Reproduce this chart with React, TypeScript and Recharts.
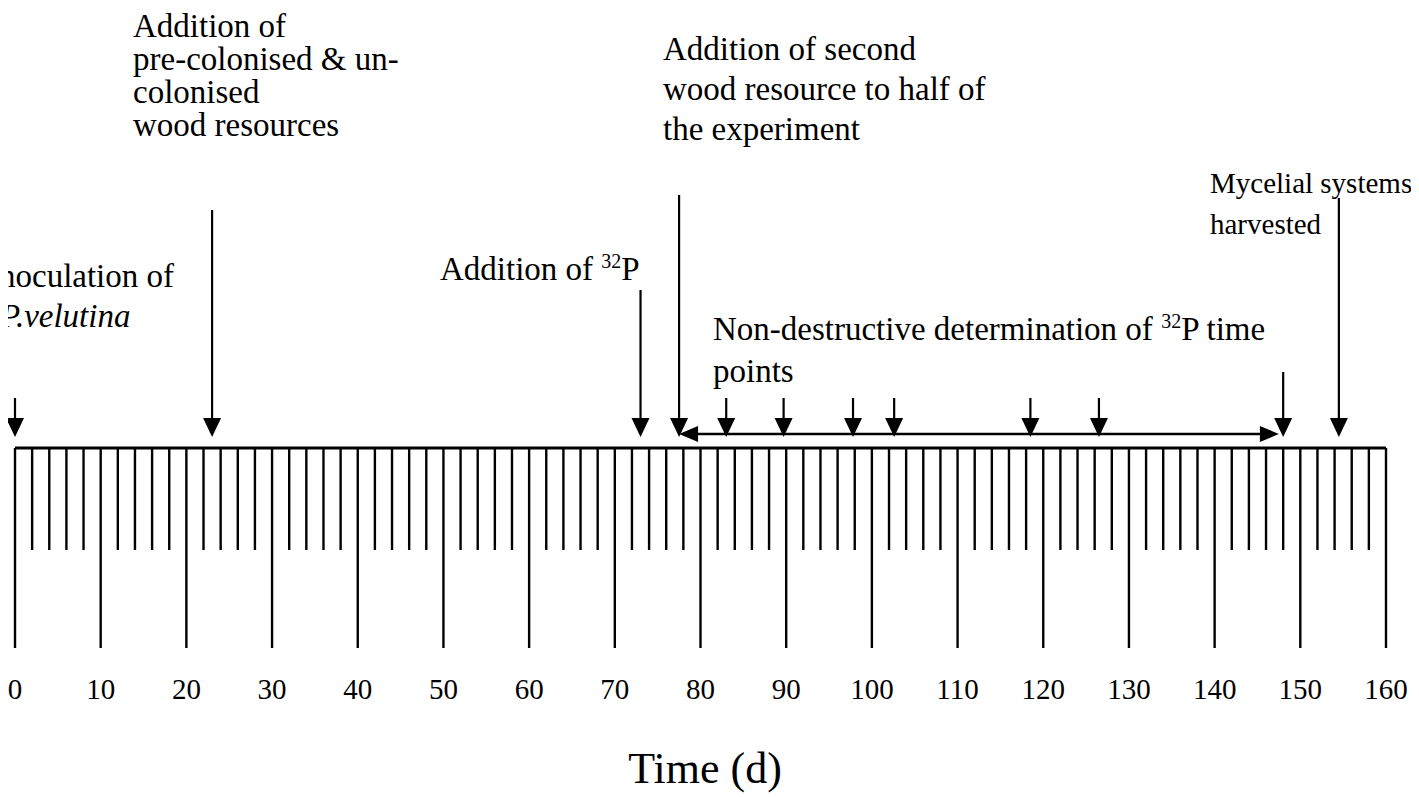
import React from "react";
import { ComposedChart, XAxis, YAxis, ReferenceLine, Customized } from "recharts";

// time axis: a tick every 2 days, a long one with a label every 10
const tickDays = [
  0, 2, 4, 6, 8, 10, 12, 14, 16, 18, 20, 22, 24, 26, 28, 30, 32, 34, 36, 38, 40,
  42, 44, 46, 48, 50, 52, 54, 56, 58, 60, 62, 64, 66, 68, 70, 72, 74, 76, 78, 80,
  82, 84, 86, 88, 90, 92, 94, 96, 98, 100, 102, 104, 106, 108, 110, 112, 114, 116,
  118, 120, 122, 124, 126, 128, 130, 132, 134, 136, 138, 140, 142, 144, 146, 148,
  150, 152, 154, 156, 158, 160,
];
const majorLabels = ["0", "10", "20", "30", "40", "50", "60", "70", "80", "90", "100", "110", "120", "130", "140", "150", "160"];

// events along the experiment (day)
const eventNames = ["inoculation", "woodAdded", "p32Added", "secondWood", "harvest"];
const eventDays = [0, 23, 73, 77.5, 154.5];

// non-destructive 32P measurement days and the span they cover
const samplingDays = [83, 89.7, 97.8, 102.6, 118.5, 126.5, 148];
const samplingSpan = [77.5, 147.5];

const W = 1419;
const H = 797;
const AXIS_Y = 448;
const TIP_Y = 437;
const SPAN_Y = 434;
const FONT = "'Liberation Serif', 'Times New Roman', serif";

const eventArrowTop: Record<string, number> = {
  inoculation: 398,
  woodAdded: 210,
  p32Added: 290,
  secondWood: 195,
  harvest: 198,
};
const samplingArrowTop = 398;
const lastSamplingTop = 372;

const downArrow = (props: any) => {
  const { x1, y1, x2, y2 } = props;
  const head = 19;
  const half = 9;
  return (
    <g>
      <line x1={x1} y1={y1} x2={x2} y2={y2 - head + 2} stroke="#000" strokeWidth={2.2} />
      <polygon points={`${x2 - half},${y2 - head} ${x2 + half},${y2 - head} ${x2},${y2}`} fill="#000" />
    </g>
  );
};

const spanArrow = (props: any) => {
  const { x1, y1, x2 } = props;
  const head = 19;
  const half = 8;
  const y = y1;
  return (
    <g>
      <line x1={x1 + head - 2} y1={y} x2={x2 - head + 2} y2={y} stroke="#000" strokeWidth={2.4} />
      <polygon points={`${x1},${y} ${x1 + head},${y - half} ${x1 + head},${y + half}`} fill="#000" />
      <polygon points={`${x2},${y} ${x2 - head},${y - half} ${x2 - head},${y + half}`} fill="#000" />
    </g>
  );
};

const TimeTick = (props: any) => {
  const { x, y, payload } = props;
  const v = payload.value;
  const major = v % 10 === 0;
  return (
    <g>
      <line x1={x} y1={y} x2={x} y2={y + (major ? 200 : 102)} stroke="#000" strokeWidth={2.4} />
      {major && (
        <text x={x} y={699} textAnchor="middle" fontFamily={FONT} fontSize={29} fill="#000">
          {majorLabels[v / 10]}
        </text>
      )}
    </g>
  );
};

const Sup = ({ children }: { children: string }) => (
  <>
    <tspan fontSize={20} dy={-12}>{children}</tspan>
    <tspan dy={12}>P</tspan>
  </>
);

const Annotations = () => (
  <g fontFamily={FONT} fontSize={33} fill="#000">
    <text x={133} y={37}>Addition of</text>
    <text x={133} y={70}>pre-colonised &amp; un-</text>
    <text x={133} y={103}>colonised</text>
    <text x={133} y={136}>wood resources</text>

    <text x={663} y={60}>Addition of second</text>
    <text x={663} y={100}>wood resource to half of</text>
    <text x={663} y={140}>the experiment</text>

    <text x={1210} y={193} fontSize={29}>Mycelial systems</text>
    <text x={1210} y={234} fontSize={29}>harvested</text>

    <text x={440} y={280}>
      Addition of <Sup>32</Sup>
    </text>

    <text x={713} y={340}>
      Non-destructive determination of <Sup>32</Sup> time
    </text>
    <text x={713} y={382}>points</text>

    <text x={-12} y={287}>Inoculation of</text>
    <text x={0} y={327} fontStyle="italic">P.velutina</text>

    <text x={705} y={783} textAnchor="middle" fontSize={44}>Time (d)</text>
  </g>
);

export default function App() {
  const rows = eventDays.map((d, i) => ({ day: d, name: eventNames[i] }));
  return (
    <div style={{ position: "relative", left: -8, top: -8, width: W, height: H, background: "#fff" }}>
      <ComposedChart width={W} height={H} data={rows} margin={{ top: 0, right: 33, bottom: 0, left: 15 }}>
        <XAxis
          type="number"
          dataKey="day"
          domain={[0, 160]}
          ticks={tickDays}
          interval={0}
          height={H - AXIS_Y}
          tickSize={0}
          tickMargin={0}
          tickLine={false}
          axisLine={{ stroke: "#000", strokeWidth: 3 }}
          tick={<TimeTick />}
          allowDataOverflow
        />
        <YAxis hide type="number" domain={[0, AXIS_Y]} reversed allowDataOverflow />

        {eventDays.map((d, i) => (
          <ReferenceLine
            key={eventNames[i]}
            ifOverflow="visible"
            segment={[
              { x: d, y: eventArrowTop[eventNames[i]] },
              { x: d, y: TIP_Y },
            ]}
            shape={downArrow}
          />
        ))}

        {samplingDays.map((d, i) => (
          <ReferenceLine
            key={"s" + d}
            ifOverflow="visible"
            segment={[
              { x: d, y: i === samplingDays.length - 1 ? lastSamplingTop : samplingArrowTop },
              { x: d, y: TIP_Y },
            ]}
            shape={downArrow}
          />
        ))}

        <ReferenceLine
          ifOverflow="visible"
          segment={[
            { x: samplingSpan[0], y: SPAN_Y },
            { x: samplingSpan[1], y: SPAN_Y },
          ]}
          shape={spanArrow}
        />

        <Customized component={<Annotations />} />
      </ComposedChart>
    </div>
  );
}
